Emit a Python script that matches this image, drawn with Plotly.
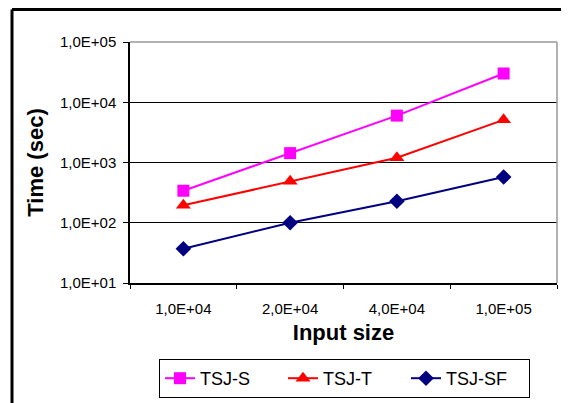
import plotly.graph_objects as go

categories = ["1,0E+04", "2,0E+04", "4,0E+04", "1,0E+05"]
tsj_s = [340, 1430, 6000, 30000]
tsj_t = [195, 490, 1200, 5100]
tsj_sf = [37, 100, 228, 575]
y_tickvals = [10, 100, 1000, 10000, 100000]
y_ticktext = ["1,0E+01", "1,0E+02", "1,0E+03", "1,0E+04", "1,0E+05"]

FONT = "Liberation Sans, Arial, sans-serif"

# page is rendered with an 8px body margin; figure sized to fit the window
W, H = 561, 395
ML, MR, MT, MB = 122, 12, 34, 120
PW, PH = W - ML - MR, H - MT - MB

fig = go.Figure()
fig.add_trace(go.Scatter(x=categories, y=tsj_s, name="TSJ-S", mode="lines+markers",
                         line=dict(color="#FF00FF", width=2),
                         marker=dict(symbol="square", size=12, color="#FF00FF")))
fig.add_trace(go.Scatter(x=categories, y=tsj_t, name="TSJ-T", mode="lines+markers",
                         line=dict(color="#FF0000", width=2),
                         marker=dict(symbol="triangle-up", size=13, color="#FF0000")))
fig.add_trace(go.Scatter(x=categories, y=tsj_sf, name="TSJ-SF", mode="lines+markers",
                         line=dict(color="#000080", width=2),
                         marker=dict(symbol="diamond", size=12, color="#000080")))

frame_x = (4 - ML) / PW
frame_y = (MT + PH - 1.5) / PH

fig.update_layout(
    width=W, height=H,
    margin=dict(l=ML, r=MR, t=MT, b=MB, autoexpand=False),
    paper_bgcolor="white", plot_bgcolor="white",
    font=dict(family=FONT, color="black", size=15),
    showlegend=True,
    legend=dict(orientation="h", xref="container", yref="container",
                x=151 / W, xanchor="left", y=1 - 351 / H, yanchor="top",
                bordercolor="black", borderwidth=1, bgcolor="white",
                font=dict(size=18, family=FONT, color="black"),
                entrywidth=78, entrywidthmode="pixels"),
    xaxis=dict(type="category", range=[-0.5, 3.5], tickson="boundaries", automargin=False,
               ticks="outside", ticklen=4, tickcolor="black", tickwidth=1,
               showline=True, linecolor="black", linewidth=1.5, showgrid=False,
               tickfont=dict(size=15, family=FONT), ticklabelstandoff=11,
               title=dict(text="<b>Input size</b>", font=dict(size=22, family=FONT), standoff=9)),
    yaxis=dict(type="log", range=[1, 5], tickvals=y_tickvals, ticktext=y_ticktext, automargin=False,
               ticks="outside", ticklen=5, tickcolor="black", tickwidth=1,
               showline=True, linecolor="black", linewidth=1.5,
               showgrid=True, gridcolor="black", gridwidth=1, zeroline=False,
               tickfont=dict(size=15, family=FONT), ticklabelstandoff=4,
               title=dict(text="<b>Time (sec)</b>", font=dict(size=22, family=FONT), standoff=10)),
    shapes=[
        dict(type="line", xref="paper", yref="paper", x0=0, x1=1, y0=1, y1=1,
             line=dict(color="#999999", width=1.5), layer="above"),
        dict(type="line", xref="paper", yref="paper", x0=1, x1=1, y0=0, y1=1,
             line=dict(color="#999999", width=1.5), layer="above"),
        dict(type="line", xref="paper", yref="paper", x0=frame_x, x1=1.2, y0=frame_y, y1=frame_y,
             line=dict(color="black", width=3), layer="above"),
        dict(type="line", xref="paper", yref="paper", x0=frame_x, x1=frame_x, y0=frame_y, y1=-0.7,
             line=dict(color="black", width=3), layer="above"),
    ],
)

fig.write_html("out.html")
